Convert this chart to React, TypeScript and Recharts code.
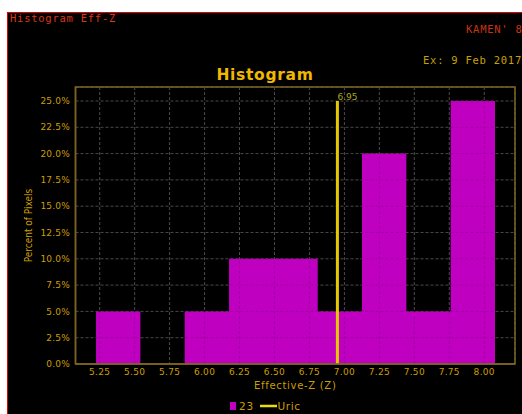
import React from 'react';
import {
  ComposedChart,
  Area,
  XAxis,
  YAxis,
  CartesianGrid,
  ReferenceLine,
  ReferenceArea,
} from 'recharts';

// Histogram bins of effective Z (left edges) and the share of pixels in each bin
const binStarts = [5.224, 5.541, 5.858, 6.175, 6.492, 6.809, 7.126, 7.443, 7.76];
const binEnd = 8.077;
const pixelPercent = [5, 0, 5, 10, 10, 5, 20, 5, 25];

// Axis ticks
const zTicks = [5.25, 5.5, 5.75, 6.0, 6.25, 6.5, 6.75, 7.0, 7.25, 7.5, 7.75, 8.0];
const percentTicks = [0, 2.5, 5, 7.5, 10, 12.5, 15, 17.5, 20, 22.5, 25];
const zDomain: [number, number] = [5.077, 8.22];
const percentDomain: [number, number] = [0, 26.33];

// Uric acid marker
const uricZ = 6.95;
const uricPercent = 25;

// Legend entries
const seriesName = '23';
const markerName = 'Uric';

// Header texts
const panelTitle = 'Histogram Eff-Z';
const operatorText = "KAMEN' 8";
const dateText = 'Ex: 9 Feb 2017';
const chartTitle = 'Histogram';
const xTitle = 'Effective-Z (Z)';
const yTitle = 'Percent of Pixels';

// step-shaped histogram: each point holds its bin value up to the next edge
const histData = binStarts
  .map((z, i) => ({ z, pct: pixelPercent[i] }))
  .concat([{ z: binEnd, pct: 0 }]);

const GOLD = '#cc9e00';
const FRAME = '#7d6520';
const MAGENTA = '#c000c0';
const URIC = '#e4c800';
const MONO = '"DejaVu Sans Mono", monospace';
const SANS = '"DejaVu Sans", sans-serif';

const YTitle = (props: any) => {
  const vb = props.viewBox || {};
  const cy = vb.y + vb.height / 2;
  const cx = 28;
  return (
    <text
      x={cx}
      y={cy}
      transform={`rotate(-90 ${cx} ${cy})`}
      textAnchor="middle"
      dominantBaseline="central"
      fill={GOLD}
      fontSize={10}
      fontFamily='"DejaVu Sans Condensed", "DejaVu Sans", sans-serif'
    >
      {yTitle}
    </text>
  );
};

const XTitle = (props: any) => {
  const vb = props.viewBox || {};
  return (
    <text
      x={vb.x + vb.width / 2}
      y={vb.y + vb.height + 4.7}
      textAnchor="middle"
      fill={GOLD}
      fontSize={10}
      letterSpacing={0.7}
      fontFamily={SANS}
    >
      {xTitle}
    </text>
  );
};

const UricLabel = (props: any) => {
  const vb = props.viewBox || {};
  return (
    <text
      x={vb.x}
      y={vb.y - 1}
      fill="#b0a818"
      fontSize={9}
      fontFamily={SANS}
    >
      {uricZ.toFixed(2)}
    </text>
  );
};

export default function App() {
  return (
    <div
      style={{
        position: 'fixed',
        left: 0,
        top: 0,
        width: 522,
        height: 414,
        overflow: 'hidden',
        background: '#ffffff',
      }}
    >
      <div
        style={{
          position: 'absolute',
          left: 7,
          top: 12,
          width: 540,
          height: 420,
          background: '#000000',
          borderTop: '1px solid #e00000',
          borderLeft: '1px solid #e00000',
          boxSizing: 'border-box',
        }}
      />
      <div style={{ position: 'absolute', left: 0, top: 0 }}>
        <ComposedChart
          width={522}
          height={414}
          data={histData}
          margin={{ top: 87, right: 7, bottom: 30, left: 0 }}
        >
          <CartesianGrid stroke="#515151" strokeDasharray="3 2" strokeWidth={1} />
          <XAxis
            dataKey="z"
            type="number"
            domain={zDomain}
            ticks={zTicks}
            allowDataOverflow
            tickFormatter={(v: number) => v.toFixed(2)}
            tickLine={false}
            tickSize={0}
            tickMargin={5}
            height={20}
            axisLine={{ stroke: FRAME, strokeWidth: 1.5 }}
            tick={{ fill: GOLD, fontSize: 9, fontFamily: SANS, letterSpacing: 0.3 }}
            interval={0}
            label={<XTitle />}
          />
          <YAxis
            type="number"
            domain={percentDomain}
            ticks={percentTicks}
            allowDataOverflow
            tickFormatter={(v: number) => `${v.toFixed(1)}%`}
            tickLine={false}
            tickSize={0}
            tickMargin={5.5}
            width={75.5}
            axisLine={{ stroke: FRAME, strokeWidth: 1.5 }}
            tick={{ fill: GOLD, fontSize: 9, fontFamily: SANS, letterSpacing: 0.2 }}
            interval={0}
            label={<YTitle />}
          />
          <Area
            type="stepAfter"
            dataKey="pct"
            name={seriesName}
            fill={MAGENTA}
            fillOpacity={1}
            stroke="none"
            baseValue={0}
            dot={false}
            activeDot={false}
            isAnimationActive={false}
          />
          {/* faint grid showing through the bars */}
          {zTicks.map((t) => (
            <ReferenceLine
              key={`gx${t}`}
              x={t}
              stroke="rgba(0,0,0,0.14)"
              strokeDasharray="3 2"
            />
          ))}
          {percentTicks.slice(1).map((t) => (
            <ReferenceLine
              key={`gy${t}`}
              y={t}
              stroke="rgba(0,0,0,0.14)"
              strokeDasharray="3 2"
            />
          ))}
          <ReferenceArea
            x1={zDomain[0]}
            x2={zDomain[1]}
            y1={percentDomain[0]}
            y2={percentDomain[1]}
            fill="none"
            fillOpacity={0}
            stroke={FRAME}
            strokeWidth={1.5}
          />
          <ReferenceLine
            segment={[
              { x: uricZ, y: 0 },
              { x: uricZ, y: uricPercent },
            ]}
            stroke={URIC}
            strokeWidth={3}
            label={<UricLabel />}
          />
        </ComposedChart>
      </div>
      <svg
        width={522}
        height={414}
        style={{ position: 'absolute', left: 0, top: 0, pointerEvents: 'none' }}
      >
        <text x={10} y={21.5} fill="#d83a10" fontSize={10.5} letterSpacing={0.75} fontFamily={MONO}>
          {panelTitle}
        </text>
        <text x={466} y={32.5} fill="#c83410" fontSize={10.5} letterSpacing={0.75} fontFamily={MONO}>
          {operatorText}
        </text>
        <text x={423} y={64} fill="#c8a000" fontSize={10.5} letterSpacing={0.75} fontFamily={MONO}>
          {dateText}
        </text>
        <text
          x={265}
          y={79.5}
          textAnchor="middle"
          fill="#f0b800"
          fontSize={15.5}
          fontWeight="bold"
          letterSpacing={0.7}
          fontFamily={SANS}
        >
          {chartTitle}
        </text>
        {/* legend */}
        <rect x={230} y={402} width={6} height={8} fill={MAGENTA} />
        <text x={239} y={409.5} fill={GOLD} fontSize={10.5} letterSpacing={0.8} fontFamily={SANS}>
          {seriesName}
        </text>
        <line x1={260} y1={406} x2={277} y2={406} stroke="#e8e000" strokeWidth={2.5} />
        <text x={277.5} y={409.5} fill={GOLD} fontSize={10.5} letterSpacing={0.6} fontFamily={SANS}>
          {markerName}
        </text>
      </svg>
    </div>
  );
}
